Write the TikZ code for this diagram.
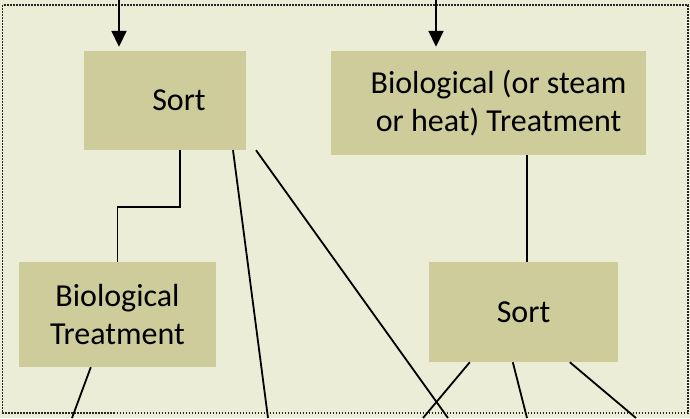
\documentclass[tikz,border=0pt]{standalone}
\usepackage{fontspec}
\setmainfont{Carlito}
\usetikzlibrary{arrows.meta,calc}
\definecolor{bg}{HTML}{EBEDD6}
\definecolor{boxc}{HTML}{CDCC9A}
\tikzset{
  boxnode/.style={fill=boxc, draw=none, align=center, inner sep=0pt, font=\fontsize{32}{38.4}\selectfont},
  conn/.style={line width=1.8pt, black},
  arr/.style={conn, -{Triangle[length=16pt,width=15pt]}, shorten >=4pt},
}
\begin{document}
\begin{tikzpicture}[x=1pt,y=-1pt]
\fill[bg] (0,0) rectangle (690,418);
\useasboundingbox (0,0) rectangle (690,418);
\draw[line width=1.8pt, dash pattern=on 1.6pt off 1.4pt, black!85] (2.5,5) rectangle (688,413);
\node[boxnode, minimum width=162pt, minimum height=99pt] (s1) at (165,100.5) {\hspace*{28pt}Sort};
\node[boxnode, minimum width=315pt, minimum height=104pt] (b1) at (488.5,103) {\hspace*{20pt}Biological (or steam\\\hspace*{20pt}or heat) Treatment};
\node[boxnode, minimum width=197pt, minimum height=105pt] (b2) at (117.5,314.5) {Biological\\Treatment};
\node[boxnode, minimum width=189pt, minimum height=100pt] (s2) at (523.5,312) {Sort};
\coordinate (t1) at (119,0);
\coordinate (t2) at (436,0);
\coordinate (e1) at (72,418);
\coordinate (e2) at (268,418);
\coordinate (e3) at (448,418);
\coordinate (e4) at (423,418);
\coordinate (e5) at (527,418);
\coordinate (e6) at (636,418);
\draw[arr] (t1) -- (t1 |- s1.north);
\draw[arr] (t2) -- (t2 |- b1.north);
\draw[conn] ([xshift=15pt]s1.south) -- ++(0,57) -| (b2.north);
\draw[conn] ([xshift=68pt]s1.south) -- (e2);
\draw[conn] ([xshift=91pt]s1.south) -- (e3);
\draw[conn] ([xshift=196pt]b1.south west) -- ([xshift=98pt]s2.north west);
\draw[conn] ([xshift=72pt]b2.south west) -- (e1);
\draw[conn] ([xshift=41pt]s2.south west) -- (e4);
\draw[conn] ([xshift=84pt]s2.south west) -- (e5);
\draw[conn] ([xshift=141pt]s2.south west) -- (e6);
\end{tikzpicture}
\end{document}
